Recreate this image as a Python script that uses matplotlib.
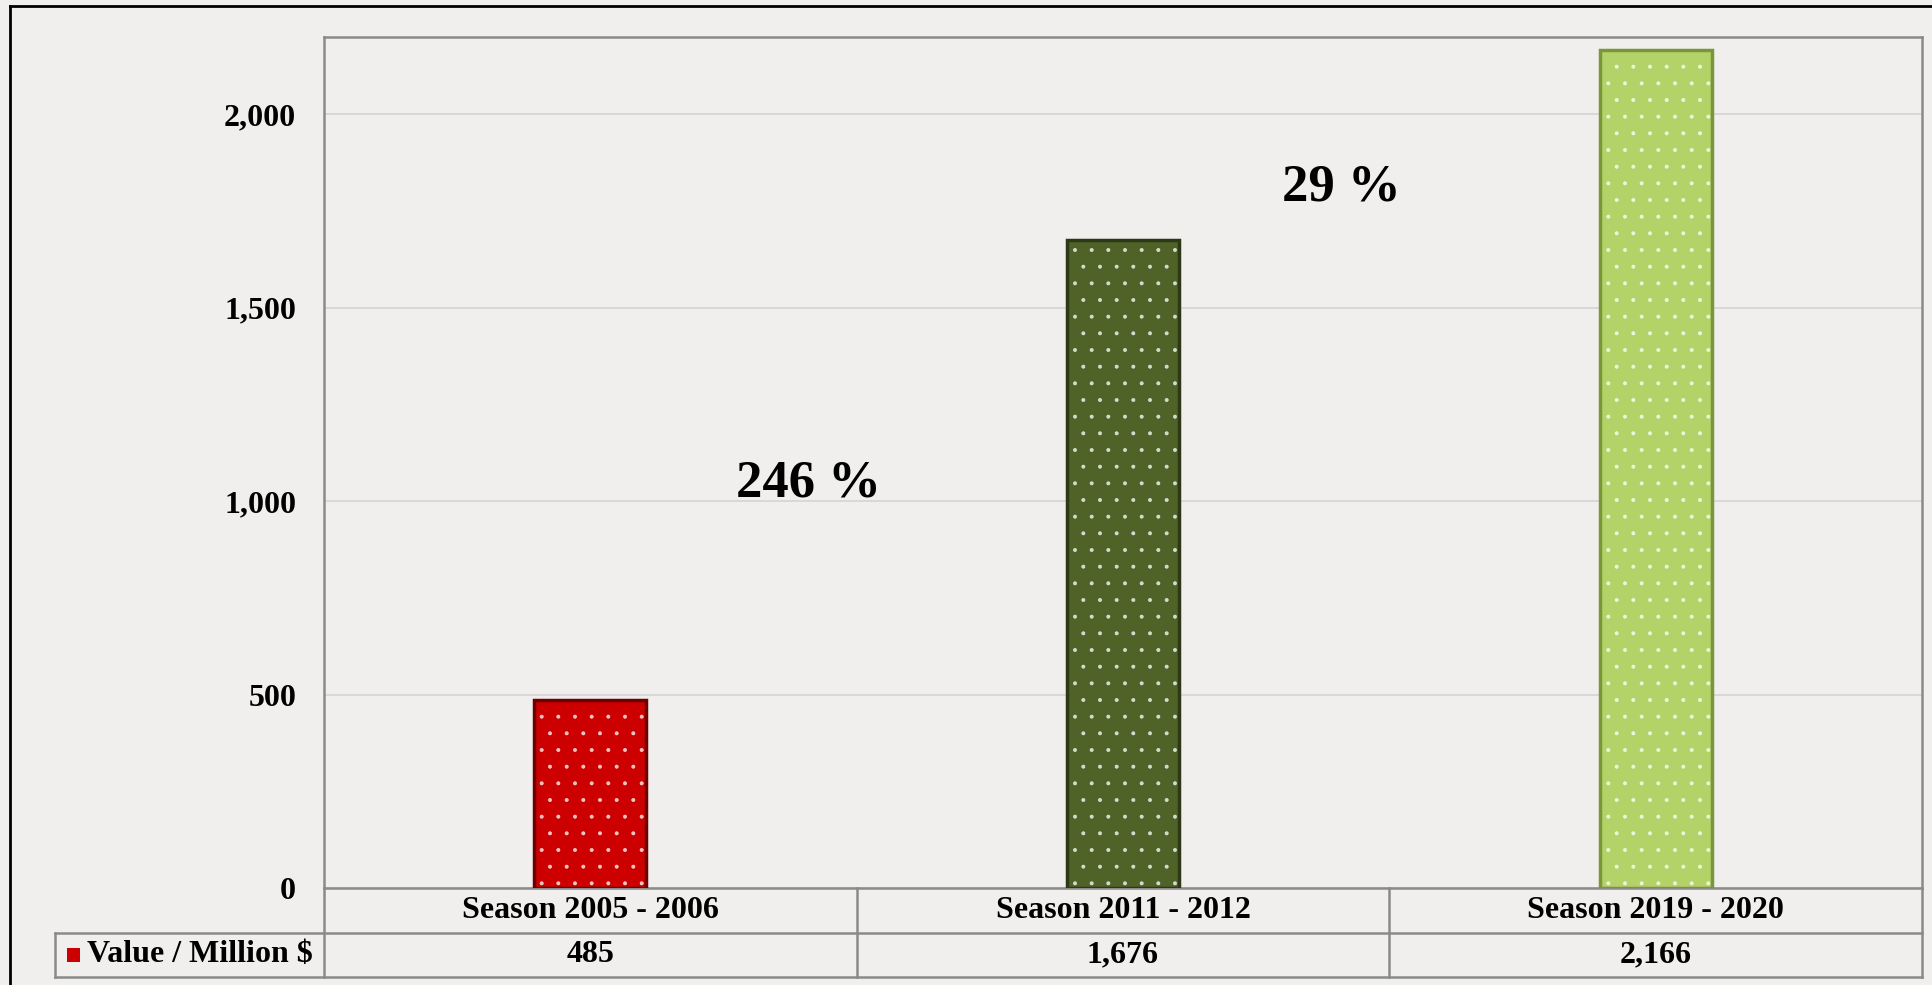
import matplotlib.pyplot as plt
from matplotlib.transforms import blended_transform_factory
from matplotlib.patches import Rectangle
from matplotlib.lines import Line2D
from matplotlib.ticker import FuncFormatter

# ----------------------------------------------------
# Data
# ----------------------------------------------------
seasons = ["Season 2005 - 2006", "Season 2011 - 2012", "Season 2019 - 2020"]
values = [485, 1676, 2166]
value_labels = ["485", "1,676", "2,166"]
series_name = "Value / Million $"
growth_labels = ["246 %", "29 %"]
growth_x = [0.41, 1.41]
growth_y = [1045, 1810]
yticks = [0, 500, 1000, 1500, 2000]

bar_colors = ["#cc0000", "#4f6228", "#b3d369"]
edge_colors = ["#6e0000", "#2c3816", "#7a963a"]

# ----------------------------------------------------
# Figure / axes
# ----------------------------------------------------
W, H = 1933, 985
plt.rcParams["font.family"] = ["Liberation Serif", "DejaVu Serif"]
plt.rcParams["font.weight"] = "bold"
plt.rcParams["hatch.linewidth"] = 0.4

fig = plt.figure(figsize=(W / 100, H / 100), dpi=100)
fig.patch.set_facecolor("#f0efed")

ax = fig.add_axes([324 / W, 1 - 888 / H, (1922 - 324) / W, (888 - 37) / H])
ax.set_facecolor("none")

x = list(range(len(values)))
ax.bar(x, values, width=0.21, color=bar_colors, linewidth=0, zorder=2)
ax.bar(x, values, width=0.21, color="none", edgecolor=(1, 1, 1, 0.75), hatch=".",
       linewidth=0, zorder=3)
ax.bar(x, values, width=0.21, color="none", edgecolor=edge_colors,
       linewidth=2.5, zorder=4)

ax.set_xlim(-0.5, 2.5)
ax.set_ylim(0, 2200)
ax.set_yticks(yticks)
ax.yaxis.set_major_formatter(FuncFormatter(lambda v, p: f"{int(v):,}"))
ax.set_xticks([])
ax.tick_params(axis="y", length=0, pad=20, labelsize=23)
ax.yaxis.grid(True, color="#d6d6d6", linewidth=1.3)
ax.set_axisbelow(True)
for s in ax.spines.values():
    s.set_color("#8a8a8a")
    s.set_linewidth(1.8)

# growth annotations
for gx, gy, gl in zip(growth_x, growth_y, growth_labels):
    ax.text(gx, gy, gl, ha="center", va="center", fontsize=38,
            fontweight="bold", zorder=5)

# ----------------------------------------------------
# Data table under the axis
# ----------------------------------------------------
trans = blended_transform_factory(ax.transData, ax.transAxes)
r1 = -45 / 851
r2 = -89 / 851
xleft = -1.005
line_kw = dict(color="#8a8a8a", linewidth=1.8, transform=trans, clip_on=False)

for yy in [r1, r2]:
    ax.add_line(Line2D([xleft, 2.5], [yy, yy], **line_kw))
ax.add_line(Line2D([xleft, xleft], [r1, r2], **line_kw))
for xx in [-0.5, 0.5, 1.5, 2.5]:
    ax.add_line(Line2D([xx, xx], [0, r2], **line_kw))

for i, (s, v) in enumerate(zip(seasons, value_labels)):
    ax.text(i, r1 / 2, s, ha="center", va="center", fontsize=23,
            transform=trans, clip_on=False)
    ax.text(i, (r1 + r2) / 2, v, ha="center", va="center", fontsize=23,
            transform=trans, clip_on=False)

ax.add_patch(Rectangle((-0.982, (r1 + r2) / 2 - 0.008), 0.024, 0.016,
                       facecolor=bar_colors[0], edgecolor="none",
                       transform=trans, clip_on=False))
ax.text(-0.945, (r1 + r2) / 2, series_name, ha="left", va="center",
        fontsize=23, transform=trans, clip_on=False)

# outer frame (runs off the right and bottom edges)
fig.add_artist(Line2D([10 / W, 10 / W], [0, 1 - 6 / H], color="black", linewidth=2))
fig.add_artist(Line2D([10 / W, 1], [1 - 6 / H, 1 - 6 / H], color="black", linewidth=2))

fig.savefig("out.png", dpi=100, facecolor=fig.get_facecolor())
